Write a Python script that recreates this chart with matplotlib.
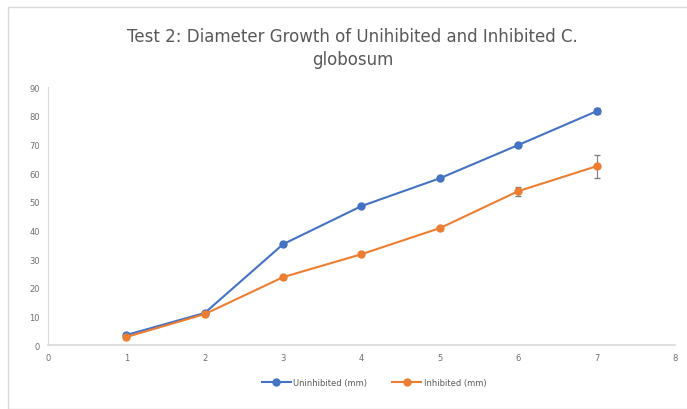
import matplotlib
matplotlib.use('Agg')
import matplotlib.pyplot as plt
from matplotlib.patches import Rectangle
from matplotlib.lines import Line2D

# data
days = [1, 2, 3, 4, 5, 6, 7]
uninhibited = [3.5, 11.2, 35.2, 48.5, 58.2, 69.8, 81.6]
uninhibited_err = [0.5, 0.5, 0.5, 0.5, 0.5, 0.5, 1.0]
inhibited = [2.8, 10.8, 23.7, 31.7, 40.8, 53.7, 62.4]
inhibited_err = [0.5, 0.5, 0.5, 0.5, 0.5, 1.6, 4.0]

xticks = [0, 1, 2, 3, 4, 5, 6, 7, 8]
yticks = [0, 10, 20, 30, 40, 50, 60, 70, 80, 90]

blue = '#4472c4'
orange = '#ed7d31'
grey = '#595959'

fig = plt.figure(figsize=(6.87, 4.10), dpi=100)
fig.patches.append(Rectangle((0.012, 0.0), 0.99, 0.98, transform=fig.transFigure,
                             fill=False, edgecolor='#d9d9d9', linewidth=1))

ax = fig.add_axes([0.0699, 0.156, 0.9126, 0.629])

ax.errorbar(days, uninhibited, yerr=uninhibited_err, color=blue, marker='o',
            markersize=5, linewidth=1.5, ecolor='#7f7f7f', elinewidth=0.8,
            capsize=2)
ax.errorbar(days, inhibited, yerr=inhibited_err, color=orange, marker='o',
            markersize=5, linewidth=1.5, ecolor='#7f7f7f', elinewidth=0.8,
            capsize=2)

ax.set_xlim(0, 8)
ax.set_ylim(0, 90)
ax.set_xticks(xticks)
ax.set_yticks(yticks)
ax.tick_params(length=0, labelsize=6, colors='#6f6f6f', pad=6)

for s in ['top', 'right']:
    ax.spines[s].set_visible(False)
ax.spines['left'].set_color('#d9d9d9')
ax.spines['bottom'].set_color('#d9d9d9')
ax.spines['bottom'].set_linewidth(1.2)

fig.text(0.513, 0.882, 'Test 2: Diameter Growth of Unihibited and Inhibited C.\nglobosum',
         ha='center', va='center', fontsize=12, color=grey, linespacing=1.35)

handles = [Line2D([], [], color=blue, marker='o', markersize=5, linewidth=1.5),
           Line2D([], [], color=orange, marker='o', markersize=5, linewidth=1.5)]
ax.legend(handles, ['Uninhibited (mm)', 'Inhibited (mm)'], loc='upper center',
          bbox_to_anchor=(0.52, -0.1), ncol=2, frameon=False,
          fontsize=6, labelcolor=grey, handlelength=3.5, handletextpad=0.3,
          columnspacing=3)

fig.savefig('out.png', dpi=100)
